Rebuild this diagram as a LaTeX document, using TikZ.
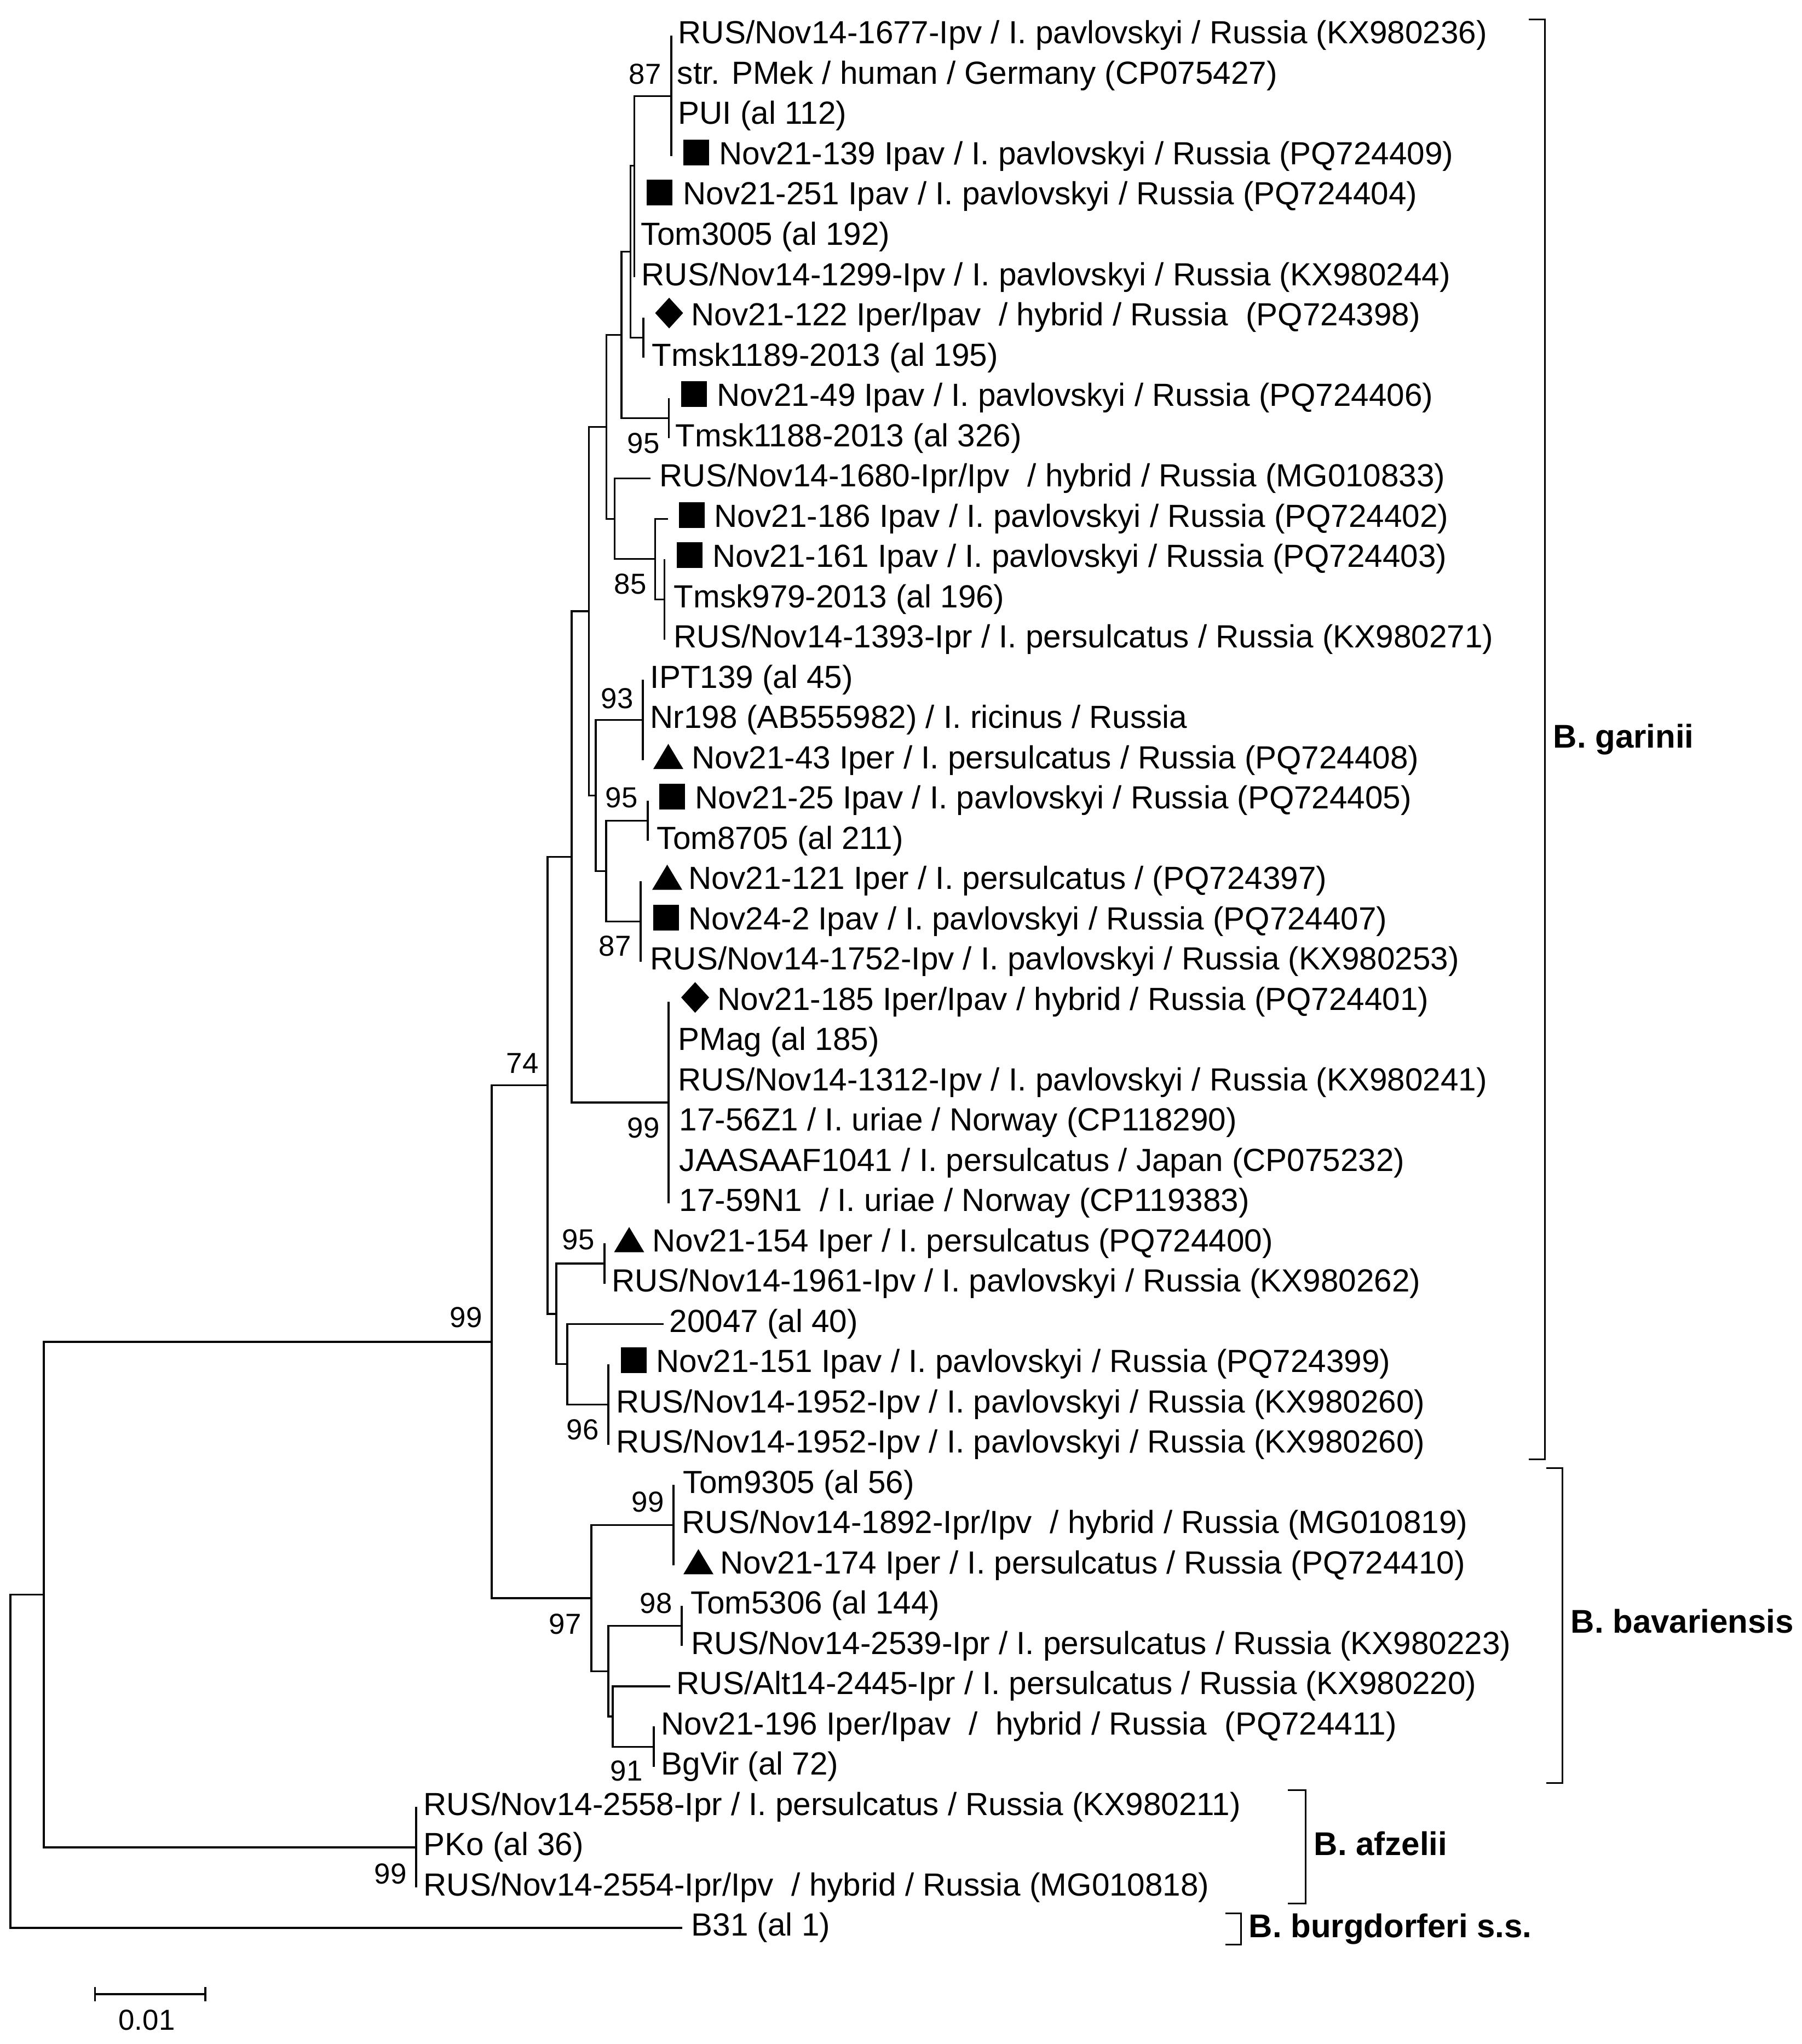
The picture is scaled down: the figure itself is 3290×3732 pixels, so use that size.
\documentclass[tikz,border=0pt]{standalone}
\usepackage{fontspec}
\setmainfont{Liberation Sans}
\begin{document}
\begin{tikzpicture}[x=0.25pt,y=-0.25pt,
  tree/.style={line width=0.8pt},
  brk/.style={line width=0.75pt},
  leaf/.style={anchor=base west, inner sep=0pt, font=\fontsize{14.6pt}{17pt}\selectfont},
  boot/.style={inner sep=0pt, font=\fontsize{13.2pt}{15pt}\selectfont},
  clade/.style={anchor=base west, inner sep=0pt, font=\fontsize{15pt}{18pt}\selectfont\bfseries},
  sqm/.pic={\fill (-23.5,-23.5) rectangle (23.5,23.5);},
  trim/.pic={\fill (-27.5,23) -- (27.5,23) -- (0,-23) -- cycle;},
  diam/.pic={\fill (-25.5,0) -- (0,-28) -- (25.5,0) -- (0,28) -- cycle;}]
\fill[white] (0,0) rectangle (3290,3732);
\useasboundingbox (0,0) rectangle (3290,3732);

% ---------- internal nodes ----------
\coordinate (c87) at (1226,175.3);
\coordinate (nA) at (1158.5,302.7);
\coordinate (nC) at (1175,616.4);
\coordinate (nB) at (1151.7,459.5);
\coordinate (nD) at (1221.7,763.3);
\coordinate (nB2) at (1135,611.4);
\coordinate (nF) at (1213.3,1094.1);
\coordinate (nE) at (1196.7,1020.6);
\coordinate (nG2) at (1122.7,947.1);
\coordinate (nH1) at (1107.7,779.3);
\coordinate (nH) at (1174,1314.7);
\coordinate (nJ) at (1183,1498.4);
\coordinate (nK) at (1170,1682.2);
\coordinate (nI) at (1107,1590.3);
\coordinate (nG) at (1088,1452.5);
\coordinate (nM1) at (1075.7,1115.9);
\coordinate (nL) at (1221,2013);
\coordinate (nM) at (1044,1564.5);
\coordinate (nP) at (1104,2307);
\coordinate (nR) at (1111,2564.3);
\coordinate (nQ) at (1036,2490.8);
\coordinate (nO) at (1016,2398.9);
\coordinate (nN) at (1000,1981.7);
\coordinate (nV) at (1230,2784.8);
\coordinate (nX) at (1245,2968.6);
\coordinate (nZ) at (1194,3189.2);
\coordinate (nY) at (1119,3134);
\coordinate (nW) at (1111,3051.3);
\coordinate (nT) at (1080,2918);
\coordinate (nS) at (898,2449.9);
\coordinate (nU) at (760,3372.9);
\coordinate (n80) at (80,2911.4);
\coordinate (root) at (19,3215.6);

% ---------- leaf tips ----------
\coordinate (p1) at (1226,65);
\coordinate (p2) at (1226,138.5);
\coordinate (p3) at (1226,212);
\coordinate (p4) at (1226,285.5);
\coordinate (p5) at (1158.5,359);
\coordinate (p6) at (1158.5,432.6);
\coordinate (p7) at (1158.5,506.1);
\coordinate (p8) at (1175,579.6);
\coordinate (p9) at (1175,653.1);
\coordinate (p10) at (1221.7,726.6);
\coordinate (p11) at (1221.7,800.1);
\coordinate (p12) at (1187.7,873.6);
\coordinate (p13) at (1220,947.1);
\coordinate (p14) at (1213.3,1020.6);
\coordinate (p15) at (1213.3,1094.1);
\coordinate (p16) at (1213.3,1167.7);
\coordinate (p17) at (1174,1241.2);
\coordinate (p18) at (1174,1314.7);
\coordinate (p19) at (1174,1388.2);
\coordinate (p20) at (1183,1461.7);
\coordinate (p21) at (1183,1535.2);
\coordinate (p22) at (1170,1608.7);
\coordinate (p23) at (1170,1682.2);
\coordinate (p24) at (1170,1755.7);
\coordinate (p25) at (1221,1829.2);
\coordinate (p26) at (1221,1902.7);
\coordinate (p27) at (1221,1976.2);
\coordinate (p28) at (1221,2049.8);
\coordinate (p29) at (1221,2123.3);
\coordinate (p30) at (1221,2196.8);
\coordinate (p31) at (1104,2270.3);
\coordinate (p32) at (1104,2343.8);
\coordinate (p33) at (1212,2417.3);
\coordinate (p34) at (1111,2490.8);
\coordinate (p35) at (1111,2564.3);
\coordinate (p36) at (1111,2637.8);
\coordinate (p37) at (1230,2711.3);
\coordinate (p38) at (1230,2784.8);
\coordinate (p39) at (1230,2858.4);
\coordinate (p40) at (1245,2931.9);
\coordinate (p41) at (1245,3005.4);
\coordinate (p42) at (1224,3078.9);
\coordinate (p43) at (1194,3152.4);
\coordinate (p44) at (1194,3225.9);
\coordinate (p45) at (760,3299.4);
\coordinate (p46) at (760,3372.9);
\coordinate (p47) at (760,3446.4);
\coordinate (p48) at (1246,3519.9);

% ---------- branches ----------
\foreach \p/\c in {c87/p1,c87/p2,c87/p3,c87/p4,
  nA/c87,nA/p5,nA/p6,nA/p7,
  nC/p8,nC/p9, nB/nA,nB/nC, nD/p10,nD/p11, nB2/nB,nB2/nD,
  nF/p14,nF/p15,nF/p16, nE/p13,nE/nF, nG2/p12,nG2/nE, nH1/nB2,nH1/nG2,
  nH/p17,nH/p18,nH/p19, nJ/p20,nJ/p21, nK/p22,nK/p23,nK/p24,
  nI/nJ,nI/nK, nG/nH,nG/nI, nM1/nH1,nM1/nG,
  nL/p25,nL/p26,nL/p27,nL/p28,nL/p29,nL/p30, nM/nM1,nM/nL,
  nP/p31,nP/p32, nR/p34,nR/p35,nR/p36, nQ/p33,nQ/nR, nO/nP,nO/nQ, nN/nM,nN/nO,
  nV/p37,nV/p38,nV/p39, nX/p40,nX/p41, nZ/p43,nZ/p44, nY/p42,nY/nZ,
  nW/nX,nW/nY, nT/nV,nT/nW, nS/nN,nS/nT,
  nU/p45,nU/p46,nU/p47, n80/nS,n80/nU, root/n80,root/p48}
  {\draw[tree] (\p) |- (\c);}

% ---------- bootstrap values ----------
\node[boot] (b87a) at (1178,135) {87};
\node[boot] (b95a) at (1175,809) {95};
\node[boot] (b85) at (1151,1066) {85};
\node[boot] (b93) at (1127,1275) {93};
\node[boot] (b95b) at (1135,1456) {95};
\node[boot] (b87b) at (1123,1727) {87};
\node[boot] (b74) at (954,1941) {74};
\node[boot] (b99a) at (1175,2059) {99};
\node[boot] (b95c) at (1056,2263) {95};
\node[boot] (b96) at (1064,2610) {96};
\node[boot] (b99b) at (851,2405) {99};
\node[boot] (b99c) at (1183,2742) {99};
\node[boot] (b98) at (1198,2927) {98};
\node[boot] (b97) at (1032,2965) {97};
\node[boot] (b91) at (1144,3233) {91};
\node[boot] (b99d) at (713,3421) {99};

% ---------- markers ----------
\pic (m4) at (1271.5,278.5) {sqm};
\pic (m5) at (1204,352) {sqm};
\pic (m10) at (1267,719.6) {sqm};
\pic (m13) at (1263.5,940.1) {sqm};
\pic (m14) at (1259.5,1013.6) {sqm};
\pic (m20) at (1227.5,1454.7) {sqm};
\pic (m23) at (1216.5,1675.2) {sqm};
\pic (m34) at (1157,2483.8) {sqm};
\pic (m19) at (1220.5,1381.2) {trim};
\pic (m22) at (1218.5,1601.7) {trim};
\pic (m31) at (1149,2263.3) {trim};
\pic (m39) at (1275.5,2851.4) {trim};
\pic (m8) at (1222,571.6) {diam};
\pic (m25) at (1269.5,1821.2) {diam};

% ---------- leaf labels ----------
\node[leaf] (t1) at (1238,80) {RUS/Nov14-1677-Ipv / I. pavlovskyi / Russia (KX980236)};
\node[leaf] (t2) at (1236,153.5) {str. PMek / human / Germany (CP075427)};
\node[leaf] (t3) at (1238,227) {PUI (al 112)};
\node[leaf] (t4) at (1313,300.5) {Nov21-139 Ipav / I. pavlovskyi / Russia (PQ724409)};
\node[leaf] (t5) at (1247,374) {Nov21-251 Ipav / I. pavlovskyi / Russia (PQ724404)};
\node[leaf] (t6) at (1170,447.6) {Tom3005 (al 192)};
\node[leaf] (t7) at (1171,521.1) {RUS/Nov14-1299-Ipv / I. pavlovskyi / Russia (KX980244)};
\node[leaf] (t8) at (1262,594.6) {Nov21-122 Iper/Ipav~ / hybrid / Russia~ (PQ724398)};
\node[leaf] (t9) at (1190,668.1) {Tmsk1189-2013 (al 195)};
\node[leaf] (t10) at (1308.5,741.6) {Nov21-49 Ipav / I. pavlovskyi / Russia (PQ724406)};
\node[leaf] (t11) at (1233,815.1) {Tmsk1188-2013 (al 326)};
\node[leaf] (t12) at (1204,888.6) {RUS/Nov14-1680-Ipr/Ipv~ / hybrid / Russia (MG010833)};
\node[leaf] (t13) at (1304,962.1) {Nov21-186 Ipav / I. pavlovskyi / Russia (PQ724402)};
\node[leaf] (t14) at (1301,1035.6) {Nov21-161 Ipav / I. pavlovskyi / Russia (PQ724403)};
\node[leaf] (t15) at (1230,1109.1) {Tmsk979-2013 (al 196)};
\node[leaf] (t16) at (1230,1182.7) {RUS/Nov14-1393-Ipr / I. persulcatus / Russia (KX980271)};
\node[leaf] (t17) at (1187,1256.2) {IPT139 (al 45)};
\node[leaf] (t18) at (1187,1329.7) {Nr198 (AB555982) / I. ricinus / Russia};
\node[leaf] (t19) at (1263,1403.2) {Nov21-43 Iper / I. persulcatus / Russia (PQ724408)};
\node[leaf] (t20) at (1269,1476.7) {Nov21-25 Ipav / I. pavlovskyi / Russia (PQ724405)};
\node[leaf] (t21) at (1199,1550.2) {Tom8705 (al 211)};
\node[leaf] (t22) at (1257,1623.7) {Nov21-121 Iper / I. persulcatus / (PQ724397)};
\node[leaf] (t23) at (1257,1697.2) {Nov24-2 Ipav / I. pavlovskyi / Russia (PQ724407)};
\node[leaf] (t24) at (1187,1770.7) {RUS/Nov14-1752-Ipv / I. pavlovskyi / Russia (KX980253)};
\node[leaf] (t25) at (1310,1844.2) {Nov21-185 Iper/Ipav / hybrid / Russia (PQ724401)};
\node[leaf] (t26) at (1238,1917.7) {PMag (al 185)};
\node[leaf] (t27) at (1238,1991.2) {RUS/Nov14-1312-Ipv / I. pavlovskyi / Russia (KX980241)};
\node[leaf] (t28) at (1240,2064.8) {17-56Z1 / I. uriae / Norway (CP118290)};
\node[leaf] (t29) at (1240,2138.3) {JAASAAF1041 / I. persulcatus / Japan (CP075232)};
\node[leaf] (t30) at (1240,2211.8) {17-59N1~ / I. uriae / Norway (CP119383)};
\node[leaf] (t31) at (1191,2285.3) {Nov21-154 Iper / I. persulcatus (PQ724400)};
\node[leaf] (t32) at (1116.5,2358.8) {RUS/Nov14-1961-Ipv / I. pavlovskyi / Russia (KX980262)};
\node[leaf] (t33) at (1222,2432.3) {20047 (al 40)};
\node[leaf] (t34) at (1198,2505.8) {Nov21-151 Ipav / I. pavlovskyi / Russia (PQ724399)};
\node[leaf] (t35) at (1124.6,2579.3) {RUS/Nov14-1952-Ipv / I. pavlovskyi / Russia (KX980260)};
\node[leaf] (t36) at (1124.6,2652.8) {RUS/Nov14-1952-Ipv / I. pavlovskyi / Russia (KX980260)};
\node[leaf] (t37) at (1247,2726.3) {Tom9305 (al 56)};
\node[leaf] (t38) at (1245,2799.8) {RUS/Nov14-1892-Ipr/Ipv~ / hybrid / Russia (MG010819)};
\node[leaf] (t39) at (1315,2873.4) {Nov21-174 Iper / I. persulcatus / Russia (PQ724410)};
\node[leaf] (t40) at (1261,2946.9) {Tom5306 (al 144)};
\node[leaf] (t41) at (1262,3020.4) {RUS/Nov14-2539-Ipr / I. persulcatus / Russia (KX980223)};
\node[leaf] (t42) at (1235,3093.9) {RUS/Alt14-2445-Ipr / I. persulcatus / Russia (KX980220)};
\node[leaf] (t43) at (1207,3167.4) {Nov21-196 Iper/Ipav~ /~ hybrid / Russia~ (PQ724411)};
\node[leaf] (t44) at (1207,3240.9) {BgVir (al 72)};
\node[leaf] (t45) at (773,3314.4) {RUS/Nov14-2558-Ipr / I. persulcatus / Russia (KX980211)};
\node[leaf] (t46) at (773,3387.9) {PKo (al 36)};
\node[leaf] (t47) at (773,3461.4) {RUS/Nov14-2554-Ipr/Ipv~ / hybrid / Russia (MG010818)};
\node[leaf] (t48) at (1262,3534.9) {B31 (al 1)};

% ---------- clade brackets ----------
\coordinate (g1) at (2792,36);
\coordinate (g2) at (2821.5,36);
\coordinate (g3) at (2821.5,2664);
\coordinate (g4) at (2792,2664);
\draw[brk] (g1) -- (g2) -- (g3) -- (g4);
\node[clade] (lg) at (2836,1365.5) {B. garinii};

\coordinate (v1) at (2824,2680);
\coordinate (v2) at (2853.5,2680);
\coordinate (v3) at (2853.5,3255);
\coordinate (v4) at (2824,3255);
\draw[brk] (v1) -- (v2) -- (v3) -- (v4);
\node[clade] (lb) at (2868,2981.5) {B. bavariensis};

\coordinate (a1) at (2351.5,3268);
\coordinate (a2) at (2384,3268);
\coordinate (a3) at (2384,3475);
\coordinate (a4) at (2351.5,3475);
\draw[brk] (a1) -- (a2) -- (a3) -- (a4);
\node[clade] (la) at (2399,3387.6) {B. afzelii};

\coordinate (u1) at (2238,3493);
\coordinate (u2) at (2266,3493);
\coordinate (u3) at (2266,3550);
\coordinate (u4) at (2238,3550);
\draw[brk] (u1) -- (u2) -- (u3) -- (u4);
\node[clade] (lu) at (2280,3537.5) {B. burgdorferi s.s.};

% ---------- scale bar ----------
\coordinate (s1) at (173.5,3641);
\coordinate (s2) at (375,3641);
\draw[tree] (s1) -- (s2);
\draw[tree] ([yshift=13*0.25pt]s1) -- ([yshift=-13*0.25pt]s1);
\draw[tree] ([yshift=13*0.25pt]s2) -- ([yshift=-13*0.25pt]s2);
\node[boot] (sl) at (268,3688) {0.01};
\end{tikzpicture}
\end{document}
